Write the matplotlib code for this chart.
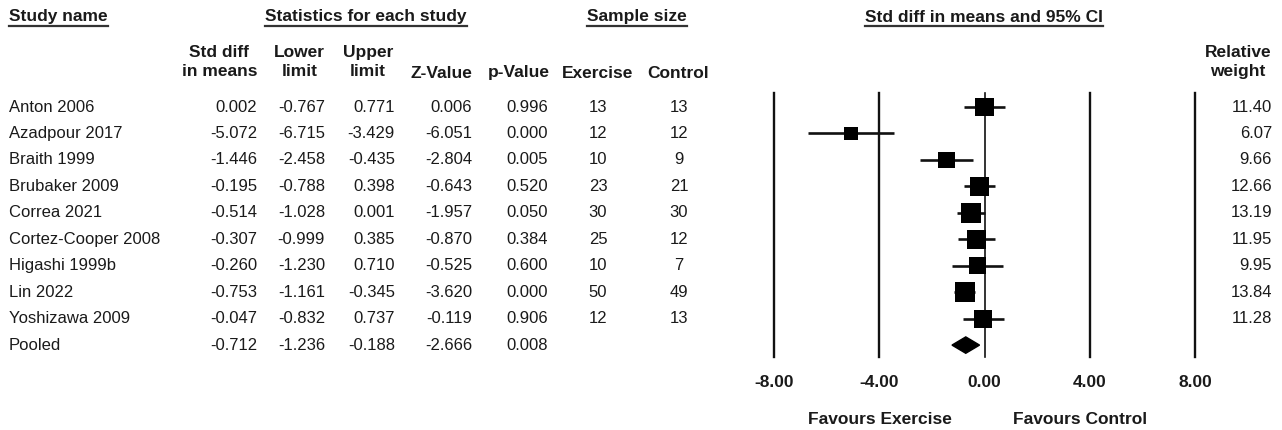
import matplotlib
matplotlib.use("Agg")
import matplotlib.pyplot as plt
import matplotlib.transforms as mtransforms
from matplotlib.lines import Line2D
import numpy as np

plt.rcParams['font.family'] = ['Liberation Sans', 'DejaVu Sans']

# data
studies = ["Anton 2006", "Azadpour 2017", "Braith 1999", "Brubaker 2009", "Correa 2021",
           "Cortez-Cooper 2008", "Higashi 1999b", "Lin 2022", "Yoshizawa 2009"]
std_diff = [0.002, -5.072, -1.446, -0.195, -0.514, -0.307, -0.260, -0.753, -0.047]
lower = [-0.767, -6.715, -2.458, -0.788, -1.028, -0.999, -1.230, -1.161, -0.832]
upper = [0.771, -3.429, -0.435, 0.398, 0.001, 0.385, 0.710, -0.345, 0.737]
z_value = [0.006, -6.051, -2.804, -0.643, -1.957, -0.870, -0.525, -3.620, -0.119]
p_value = [0.996, 0.000, 0.005, 0.520, 0.050, 0.384, 0.600, 0.000, 0.906]
n_exercise = [13, 12, 10, 23, 30, 25, 10, 50, 12]
n_control = [13, 12, 9, 21, 30, 12, 7, 49, 13]
rel_weight = [11.40, 6.07, 9.66, 12.66, 13.19, 11.95, 9.95, 13.84, 11.28]

pooled = {"est": -0.712, "lo": -1.236, "hi": -0.188, "z": -2.666, "p": 0.008}
xticks = [-8, -4, 0, 4, 8]

W, H = 1282, 430
txt = '#1a1a1a'
body = 12
head = 12.5

fig = plt.figure(figsize=(W / 100, H / 100), dpi=100)

# forest panel: x=-8 at px 774, x=8 at px 1195; lines run from y 93 to 357
ax = fig.add_axes([774 / W, (H - 357) / H, 421 / W, 264 / H])
n = len(studies)
ax.set_xlim(-8, 8)
ax.set_ylim(n + 0.45, -0.53)
for s in ax.spines.values():
    s.set_visible(False)
ax.set_yticks([])
ax.set_xticks(xticks)
ax.set_xticklabels(["%.2f" % t for t in xticks], fontweight='bold', fontsize=head, color=txt)
ax.tick_params(axis='x', length=0, pad=13)

for t in xticks:
    ax.axvline(t, color='#111111', lw=1.2 if t == 0 else 1.7, zorder=1, clip_on=False)

rows = np.arange(n)
ax.hlines(rows, lower, upper, color='#111111', lw=1.9, zorder=2)
side_pt = 5.4 * np.sqrt(rel_weight) * 0.72
ax.scatter(std_diff, rows, marker='s', s=side_pt ** 2, color='black', linewidths=0, zorder=3)

dh = 0.31
ax.fill([pooled["lo"], pooled["est"], pooled["hi"], pooled["est"]],
        [n, n - dh, n, n + dh], color='black', zorder=3)

# table columns share the rows of the forest axes
tr = mtransforms.blended_transform_factory(fig.transFigure, ax.transData)


def fx(px):
    return px / W


def fy(px):
    return 1 - px / H


for i in range(n):
    ax_kw = dict(transform=tr, va='center', fontsize=body, color=txt)
    fig.text(fx(9), i, studies[i], ha='left', **ax_kw)
    fig.text(fx(257), i, "%.3f" % std_diff[i], ha='right', **ax_kw)
    fig.text(fx(325), i, "%.3f" % lower[i], ha='right', **ax_kw)
    fig.text(fx(395), i, "%.3f" % upper[i], ha='right', **ax_kw)
    fig.text(fx(472), i, "%.3f" % z_value[i], ha='right', **ax_kw)
    fig.text(fx(548), i, "%.3f" % p_value[i], ha='right', **ax_kw)
    fig.text(fx(598), i, str(n_exercise[i]), ha='center', **ax_kw)
    fig.text(fx(679), i, str(n_control[i]), ha='center', **ax_kw)
    fig.text(fx(1272), i, "%.2f" % rel_weight[i], ha='right', **ax_kw)

kw = dict(transform=tr, va='center', fontsize=body, color=txt)
fig.text(fx(9), n, "Pooled", ha='left', **kw)
fig.text(fx(257), n, "%.3f" % pooled["est"], ha='right', **kw)
fig.text(fx(325), n, "%.3f" % pooled["lo"], ha='right', **kw)
fig.text(fx(395), n, "%.3f" % pooled["hi"], ha='right', **kw)
fig.text(fx(472), n, "%.3f" % pooled["z"], ha='right', **kw)
fig.text(fx(548), n, "%.3f" % pooled["p"], ha='right', **kw)

# group headers (underlined)
group_heads = [("Study name", 9, 'left'), ("Statistics for each study", 366, 'center'),
               ("Sample size", 637, 'center'), ("Std diff in means and 95% CI", 984, 'center')]
head_texts = []
for label, x, ha in group_heads:
    head_texts.append(fig.text(fx(x), fy(17), label, ha=ha, va='center', fontsize=head,
                               fontweight='bold', color=txt))

# column headers
col_heads = [("Std diff\nin means", 257, 'right'), ("Lower\nlimit", 325, 'right'),
             ("Upper\nlimit", 393, 'right'), ("Z-Value", 472, 'right'),
             ("p-Value", 550, 'right'), ("Exercise", 598, 'center'),
             ("Control", 678, 'center'), ("Relative\nweight", 1271, 'right')]
for label, x, ha in col_heads:
    y = 62 if "\n" in label else 73
    fig.text(fx(x), fy(y), label, ha=ha, va='center', ma='center', fontsize=head,
             fontweight='bold', color=txt, linespacing=1.3)

fig.text(fx(880), fy(420), "Favours Exercise", ha='center', va='center', fontsize=head,
         fontweight='bold', color=txt)
fig.text(fx(1080), fy(420), "Favours Control", ha='center', va='center', fontsize=head,
         fontweight='bold', color=txt)

fig.canvas.draw()
r = fig.canvas.get_renderer()
for t in head_texts:
    bb = t.get_window_extent(renderer=r)
    yy = fy(26)
    fig.add_artist(Line2D([bb.x0 / W, bb.x1 / W], [yy, yy], color='#333333', lw=1.6))

fig.savefig("out.png", dpi=100)
